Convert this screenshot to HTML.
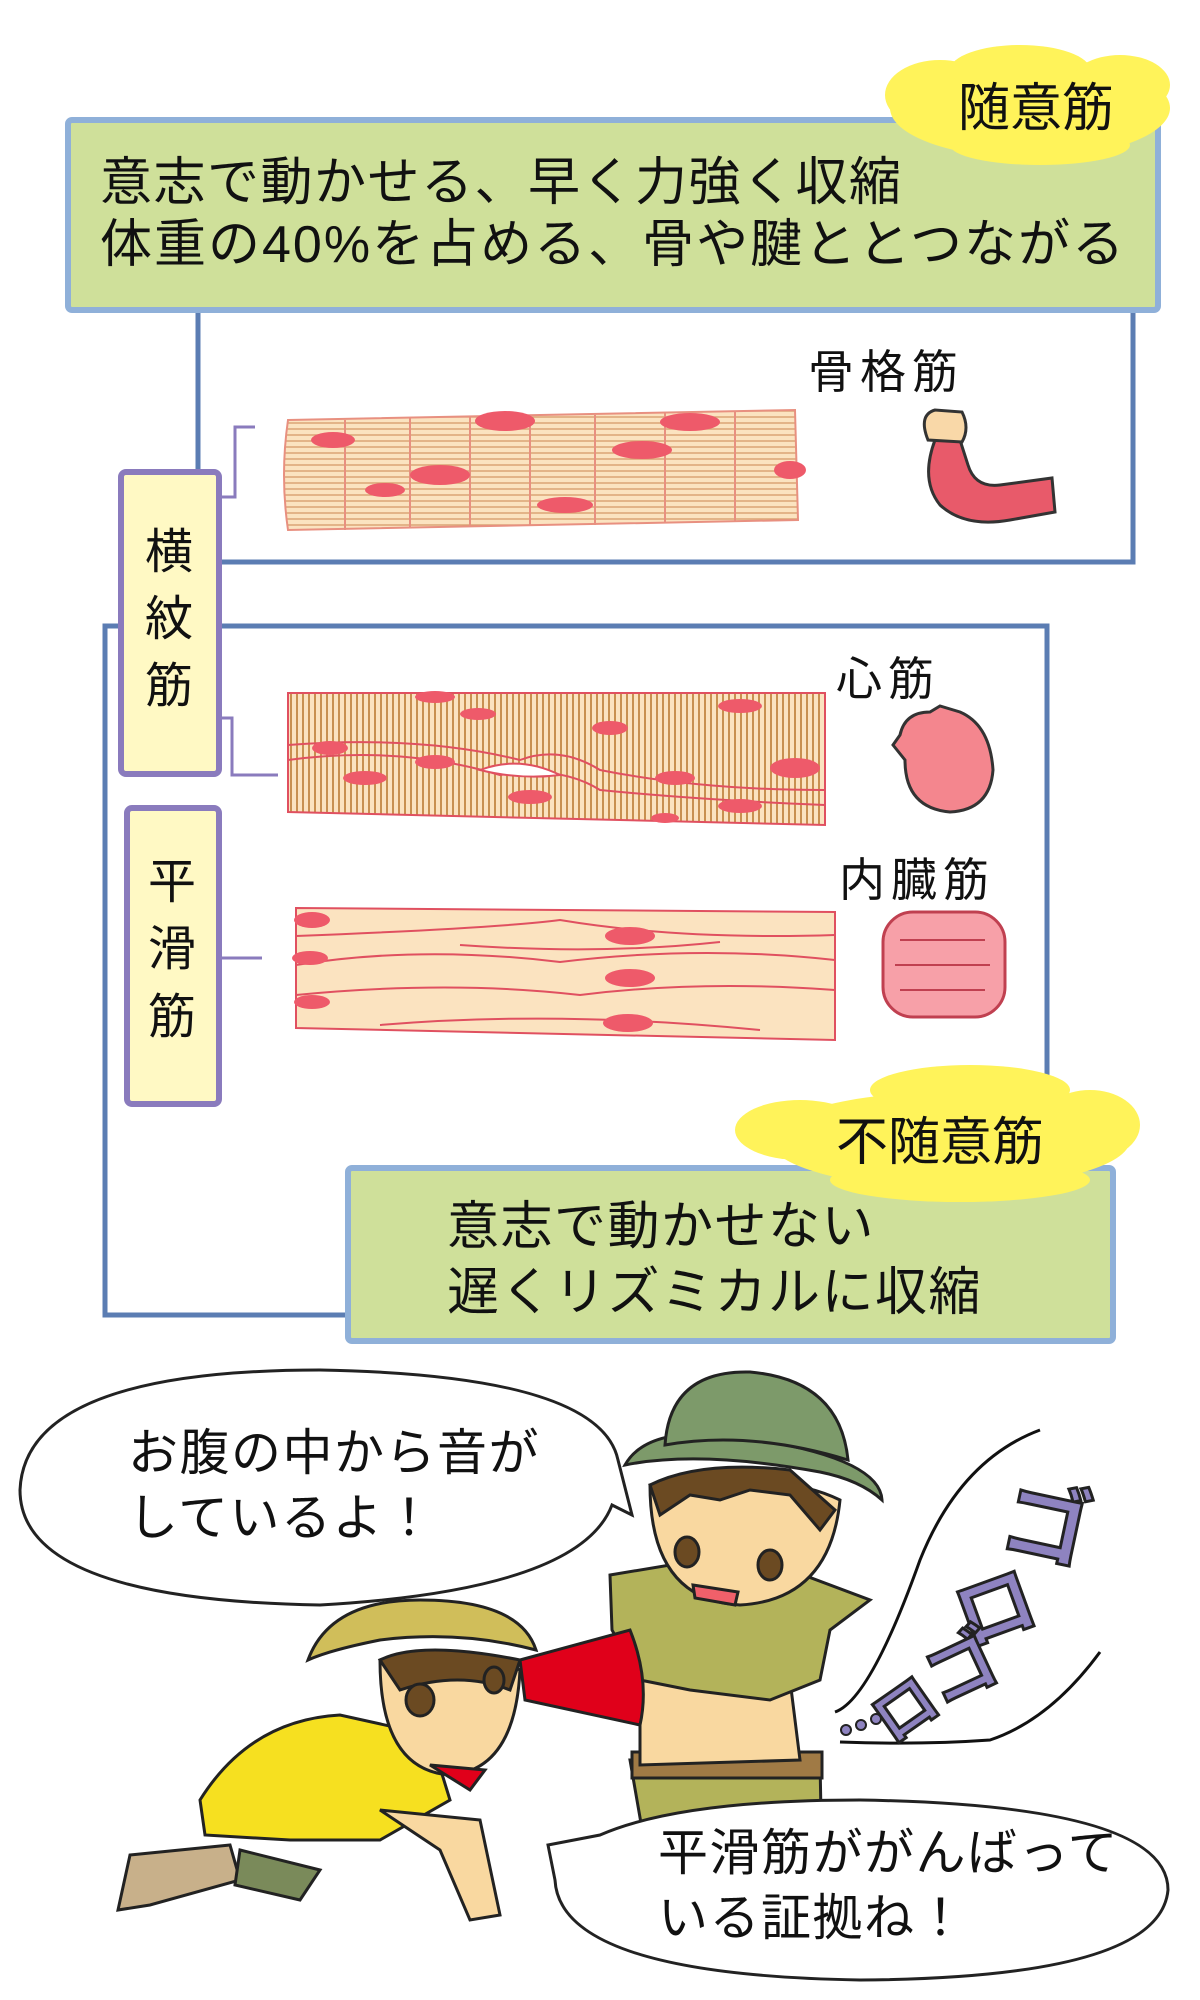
<!DOCTYPE html>
<html><head><meta charset="utf-8"><style>
html,body{margin:0;padding:0;background:#fff;}
svg{display:block;}
text{font-family:"Liberation Sans","Noto Sans CJK JP",sans-serif;fill:#111;}
</style></head><body>
<svg width="1200" height="2000" viewBox="0 0 1200 2000" xmlns="http://www.w3.org/2000/svg">
<rect x="198" y="300" width="935" height="262" fill="#fff" stroke="#5b7db3" stroke-width="5"/>
<rect x="105" y="626" width="942" height="689" fill="#fff" stroke="#5b7db3" stroke-width="5"/>
<rect x="68" y="120" width="1090" height="190" rx="4" fill="#cfe09a" stroke="#8fb0d9" stroke-width="6"/>
<text x="100" y="200" font-size="52" letter-spacing="1.5">意志で動かせる、早く力強く収縮</text>
<text x="100" y="262" font-size="52" letter-spacing="2">体重の40%を占める、骨や腱ととつながる</text>
<g fill="#fff35a">
<ellipse cx="1030" cy="108" rx="140" ry="50"/><ellipse cx="940" cy="95" rx="55" ry="35"/><ellipse cx="1020" cy="70" rx="70" ry="25"/><ellipse cx="1120" cy="85" rx="50" ry="30"/><ellipse cx="1040" cy="145" rx="90" ry="20"/>
</g>
<text x="958" y="126" font-size="52">随意筋</text>
<text x="808" y="388" font-size="46" letter-spacing="6">骨格筋</text>
<text x="836" y="695" font-size="46" letter-spacing="6">心筋</text>
<text x="839" y="896" font-size="46" letter-spacing="6">内臓筋</text>
<polyline points="255,427 235,427 235,497 222,497" fill="none" stroke="#8a7bbd" stroke-width="3"/>
<polyline points="222,718 232,718 232,775 278,775" fill="none" stroke="#8a7bbd" stroke-width="3"/>
<line x1="220" y1="958" x2="262" y2="958" stroke="#8a7bbd" stroke-width="3"/>
<rect x="121" y="472" width="98" height="302" rx="5" fill="#fff9c4" stroke="#8a7bbd" stroke-width="6"/>
<text x="145" y="568" font-size="48">横</text><text x="145" y="635" font-size="48">紋</text><text x="145" y="702" font-size="48">筋</text>
<rect x="127" y="808" width="92" height="296" rx="5" fill="#fff9c4" stroke="#8a7bbd" stroke-width="6"/>
<text x="148" y="898" font-size="48">平</text><text x="148" y="965" font-size="48">滑</text><text x="148" y="1033" font-size="48">筋</text>
<defs>
<pattern id="str" width="8" height="6" patternUnits="userSpaceOnUse"><rect width="8" height="6" fill="#fbe3c0"/><line x1="0" y1="3" x2="8" y2="3" stroke="#d9a070" stroke-width="1.4"/></pattern>
<pattern id="str2" width="6" height="8" patternUnits="userSpaceOnUse"><rect width="6" height="8" fill="#fbe3c0"/><line x1="3" y1="0" x2="3" y2="8" stroke="#c89050" stroke-width="2"/></pattern>
</defs>
<path d="M288,420 L795,410 L798,520 L288,530 Q280,475 288,420Z" fill="url(#str)" stroke="#e89080" stroke-width="2"/>
<g stroke="#e89080" stroke-width="2">
<line x1="345" y1="420" x2="345" y2="530"/><line x1="410" y1="418" x2="410" y2="528"/><line x1="470" y1="417" x2="470" y2="527"/><line x1="530" y1="416" x2="530" y2="526"/><line x1="595" y1="415" x2="595" y2="525"/><line x1="665" y1="413" x2="665" y2="523"/><line x1="735" y1="412" x2="735" y2="522"/>
</g>
<g fill="#ee5a6a"><ellipse cx="333" cy="440" rx="22" ry="8"/><ellipse cx="505" cy="421" rx="30" ry="10"/><ellipse cx="690" cy="422" rx="30" ry="9"/><ellipse cx="642" cy="450" rx="30" ry="9"/><ellipse cx="440" cy="475" rx="30" ry="10"/><ellipse cx="385" cy="490" rx="20" ry="7"/><ellipse cx="565" cy="505" rx="28" ry="8"/><ellipse cx="790" cy="470" rx="16" ry="9"/></g>
<path d="M935,440 Q920,480 940,505 Q965,528 1010,520 L1055,512 L1052,478 L1000,485 Q975,488 968,465 L960,440Z" fill="#e85a6a" stroke="#333" stroke-width="3"/>
<path d="M928,440 Q918,415 935,410 L962,412 Q970,428 962,442Z" fill="#f9d8a8" stroke="#333" stroke-width="3"/>
<path d="M288,693 L825,693 L825,825 L288,812Z" fill="url(#str2)" stroke="#e05060" stroke-width="2"/>
<path d="M288,745 Q420,735 520,760 Q560,745 600,770 Q700,790 825,790" fill="none" stroke="#e05060" stroke-width="2"/>
<path d="M288,760 Q400,745 500,775 Q560,765 600,790 Q700,800 825,805" fill="none" stroke="#e05060" stroke-width="2"/>
<path d="M480,770 Q520,755 560,775 Q520,780 480,770Z" fill="#fff" stroke="#e05060" stroke-width="2"/>
<g fill="#ee5a6a"><ellipse cx="435" cy="697" rx="20" ry="6"/><ellipse cx="478" cy="714" rx="18" ry="6"/><ellipse cx="610" cy="728" rx="18" ry="7"/><ellipse cx="740" cy="706" rx="22" ry="7"/><ellipse cx="330" cy="748" rx="18" ry="7"/><ellipse cx="365" cy="778" rx="22" ry="7"/><ellipse cx="435" cy="762" rx="20" ry="7"/><ellipse cx="530" cy="797" rx="22" ry="7"/><ellipse cx="675" cy="778" rx="20" ry="7"/><ellipse cx="795" cy="768" rx="25" ry="10"/><ellipse cx="740" cy="806" rx="22" ry="7"/><ellipse cx="665" cy="818" rx="14" ry="5"/></g>
<path d="M900,735 Q905,712 930,712 L940,706 L960,712 Q990,725 993,770 Q990,810 950,812 Q905,808 905,760 L893,745Z" fill="#f4868e" stroke="#333" stroke-width="3"/>
<path d="M296,908 L835,912 L835,1040 L296,1028Z" fill="#fbe3c0" stroke="#e05060" stroke-width="2"/>
<g fill="none" stroke="#e05060" stroke-width="2">
<path d="M296,936 Q500,928 560,920 Q680,940 835,935"/><path d="M296,965 Q420,945 560,962 Q700,945 835,960"/><path d="M296,995 Q450,980 580,995 Q700,980 835,990"/><path d="M380,1025 Q560,1010 760,1030"/><path d="M460,945 Q600,955 720,942"/>
</g>
<g fill="#ee5a6a"><ellipse cx="312" cy="920" rx="18" ry="8"/><ellipse cx="630" cy="936" rx="25" ry="9"/><ellipse cx="310" cy="958" rx="18" ry="7"/><ellipse cx="630" cy="978" rx="25" ry="9"/><ellipse cx="312" cy="1002" rx="18" ry="7"/><ellipse cx="628" cy="1023" rx="25" ry="9"/></g>
<rect x="883" y="912" width="122" height="105" rx="30" fill="#f7a0a8" stroke="#c04050" stroke-width="3"/>
<g fill="none" stroke="#c04050" stroke-width="2"><path d="M900,940 H985"/><path d="M895,965 H990"/><path d="M900,990 H985"/></g>
<rect x="348" y="1168" width="765" height="173" rx="4" fill="#cfe09a" stroke="#8fb0d9" stroke-width="6"/>
<g fill="#fff35a">
<ellipse cx="950" cy="1140" rx="180" ry="48"/><ellipse cx="800" cy="1130" rx="65" ry="30"/><ellipse cx="970" cy="1090" rx="100" ry="25"/><ellipse cx="1090" cy="1125" rx="50" ry="35"/><ellipse cx="960" cy="1180" rx="130" ry="22"/>
</g>
<text x="836" y="1160" font-size="52">不随意筋</text>
<text x="447" y="1244" font-size="52" letter-spacing="1.5">意志で動かせない</text>
<text x="447" y="1310" font-size="52" letter-spacing="1.5">遅くリズミカルに収縮</text>
<path d="M632,1515 L612,1505 Q580,1590 320,1605 Q20,1600 20,1490 Q25,1370 320,1370 Q600,1375 618,1460Z" fill="#fff" stroke="#222" stroke-width="3"/>
<text x="128" y="1470" font-size="50" letter-spacing="1.5">お腹の中から音が</text>
<text x="128" y="1535" font-size="50" letter-spacing="1.5">しているよ！</text>
<path d="M1040,1430 Q960,1460 920,1560 Q870,1700 835,1712" fill="none" stroke="#111" stroke-width="3"/>
<path d="M840,1742 Q920,1745 990,1740 Q1050,1720 1100,1652" fill="none" stroke="#111" stroke-width="3"/>
<g font-weight="bold" font-size="88" style="fill:#8e83c0;stroke:#222;stroke-width:3" text-anchor="middle">
<text transform="translate(1040,1555) rotate(12)" style="fill:#8e83c0">ゴ</text>
<text transform="translate(1005,1635) rotate(-20)" font-size="80" style="fill:#8e83c0">ロ</text>
<text transform="translate(972,1690) rotate(-25)" font-size="72" style="fill:#8e83c0">ゴ</text>
<text transform="translate(918,1728) rotate(-35)" font-size="64" style="fill:#8e83c0">ロ</text>
</g>
<circle cx="846" cy="1730" r="5" fill="#8e83c0" stroke="#222" stroke-width="2"/><circle cx="861" cy="1725" r="5" fill="#8e83c0" stroke="#222" stroke-width="2"/><circle cx="876" cy="1719" r="5" fill="#8e83c0" stroke="#222" stroke-width="2"/>
<g stroke="#222" stroke-width="3">
<path d="M630,1760 L820,1760 L822,1870 L650,1875Z" fill="#b3b35a"/>
<rect x="632" y="1752" width="190" height="26" fill="#a07a45"/>
<path d="M640,1680 Q720,1650 790,1680 L800,1760 L640,1765Z" fill="#f9d8a0"/>
<path d="M610,1575 L700,1560 L790,1570 L870,1600 L830,1630 L820,1680 L770,1700 L690,1690 L640,1680 L612,1630Z" fill="#b3b35a"/>
<path d="M650,1485 Q650,1600 740,1605 Q830,1600 840,1500 Q780,1470 650,1485Z" fill="#f9d8a0"/>
<path d="M650,1485 Q700,1460 790,1470 L835,1510 L820,1530 L790,1495 L750,1490 L720,1500 L690,1495 L660,1515Z" fill="#6b4a22"/>
<path d="M625,1465 Q650,1420 760,1440 Q880,1460 882,1500 Q860,1480 820,1472 Q700,1450 625,1465Z" fill="#7d9a6a"/>
<path d="M665,1445 Q670,1370 750,1372 Q840,1380 848,1460 Q750,1430 665,1445Z" fill="#7d9a6a"/>
<ellipse cx="687" cy="1552" rx="12" ry="15" fill="#6b4a22"/><ellipse cx="770" cy="1565" rx="12" ry="15" fill="#6b4a22"/>
<path d="M693,1585 L738,1592 L735,1605 L695,1598Z" fill="#f0606a"/>
</g>
<path d="M520,1660 L630,1630 Q650,1680 640,1725 L525,1700Z" fill="#e0001a" stroke="#222" stroke-width="3"/>
<g stroke="#222" stroke-width="3">
<path d="M200,1800 Q250,1720 340,1715 L430,1735 L450,1800 L380,1840 L290,1840 L205,1835Z" fill="#f6e020"/>
<path d="M130,1855 L230,1845 L240,1880 L150,1905 L118,1910Z" fill="#c8b08a"/>
<path d="M240,1850 L320,1870 L300,1900 L235,1885Z" fill="#7a8a5a"/>
<path d="M380,1810 L480,1820 L500,1915 L470,1920 L440,1850Z" fill="#f9d8a0"/>
<path d="M380,1660 Q380,1770 450,1775 Q515,1770 520,1670 Q460,1640 380,1660Z" fill="#f9d8a0"/>
<path d="M380,1660 Q420,1640 520,1660 L510,1690 Q460,1670 400,1690Z" fill="#6b4a22"/>
<path d="M308,1660 Q330,1600 420,1600 Q520,1600 536,1650 Q460,1630 380,1640 Q330,1650 308,1660Z" fill="#d0be5a"/>
<ellipse cx="420" cy="1700" rx="14" ry="16" fill="#6b4a22"/><ellipse cx="494" cy="1680" rx="10" ry="13" fill="#6b4a22"/>
<path d="M430,1765 L485,1770 L470,1790Z" fill="#e0001a"/>
</g>
<path d="M548,1845 L600,1835 Q680,1800 860,1800 Q1168,1805 1168,1890 Q1160,1978 860,1980 Q560,1975 555,1880Z" fill="#fff" stroke="#222" stroke-width="3"/>
<text x="658" y="1870" font-size="50" letter-spacing="1.5">平滑筋ががんばって</text>
<text x="658" y="1935" font-size="50" letter-spacing="1.5">いる証拠ね！</text>
</svg>
</body></html>
